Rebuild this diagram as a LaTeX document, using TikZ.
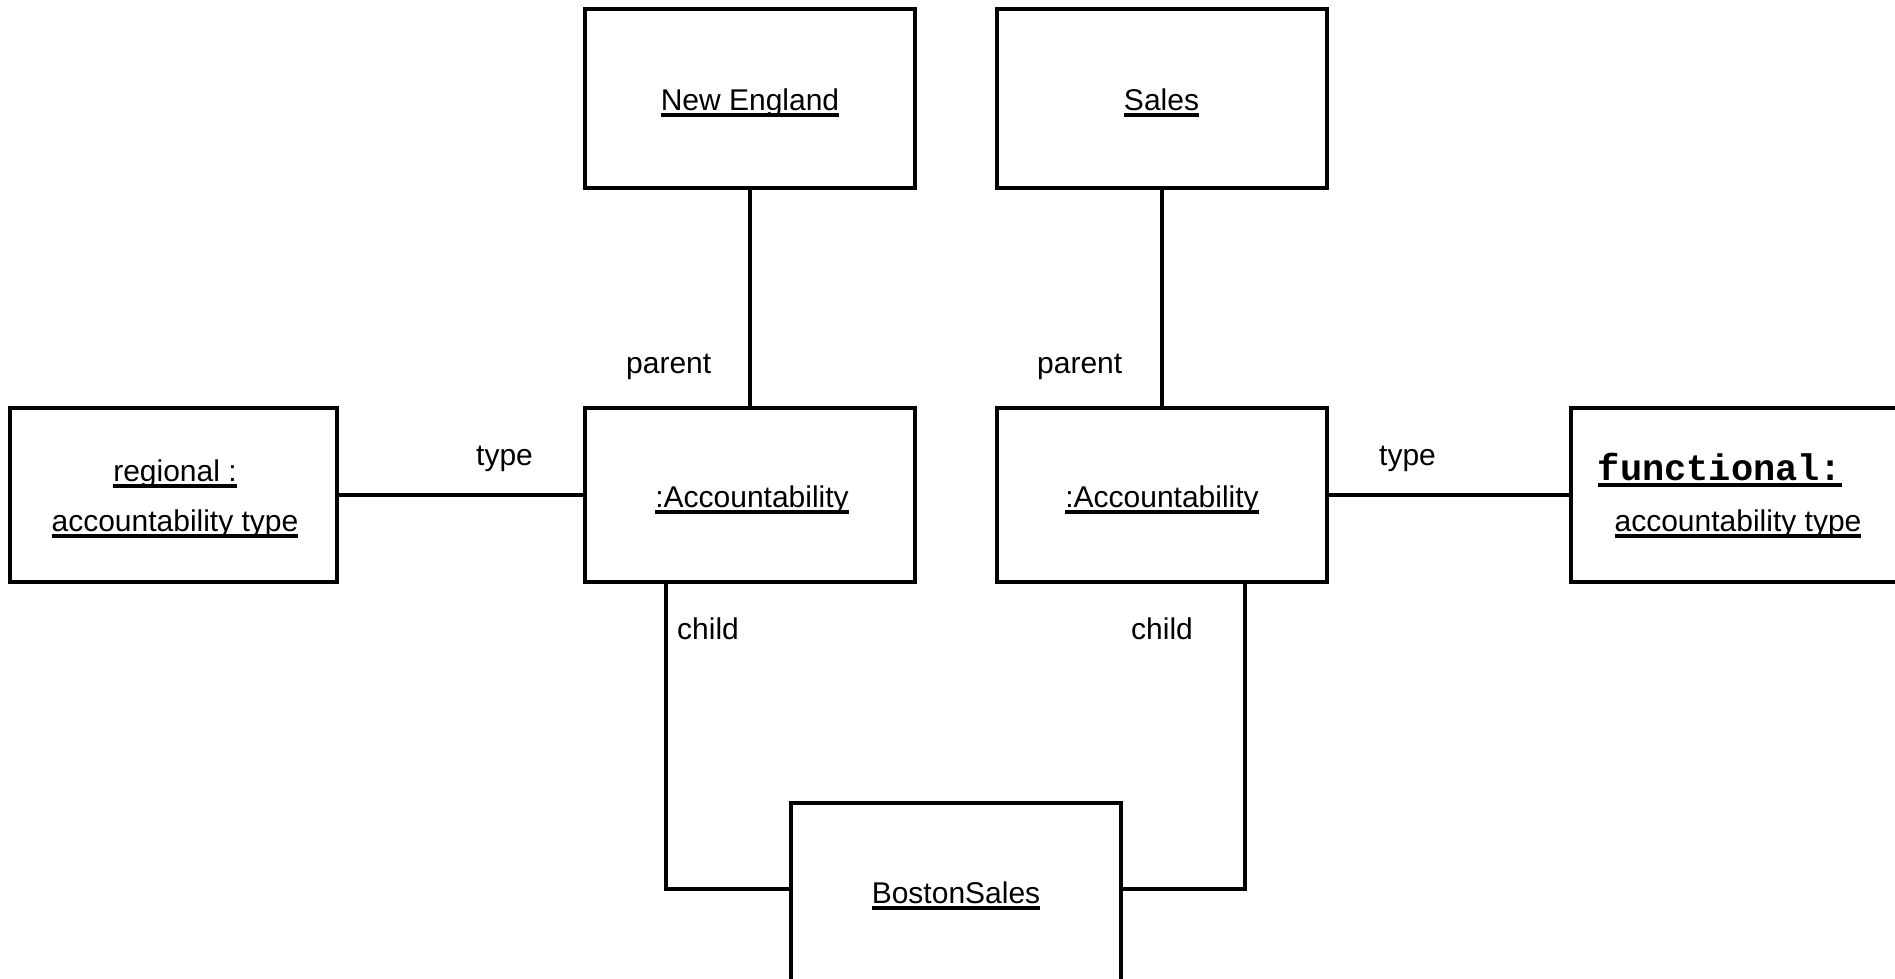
\documentclass[tikz,border=0pt]{standalone}
\usepackage{fontspec}
\setmainfont{Liberation Sans}
\newfontfamily\monob{Liberation Mono}
\newcommand{\ulname}[1]{\setbox0=\hbox{#1}\rlap{\raisebox{-7pt}{\rule{\wd0}{4pt}}}\box0}
\begin{document}
\begin{tikzpicture}[x=1pt,y=-1pt,
  obj/.style={draw, line width=4pt, inner sep=0pt, minimum width=330pt, minimum height=174pt},
  txt/.style={inner sep=0pt, anchor=base, font=\fontsize{30}{36}\selectfont},
  mtxt/.style={inner sep=0pt, anchor=base, font=\fontsize{37}{44}\selectfont\monob\bfseries},
  lbl/.style={inner sep=0pt, anchor=base west, font=\fontsize{30}{36}\selectfont},
  conn/.style={line width=4pt}]
\useasboundingbox (0,0) rectangle (1895,978);
\begin{scope}
\clip (0,0) rectangle (1895,978);
% boxes
\node[obj, minimum height=179pt] (ne) at (750,98) {};
\node[obj, minimum height=179pt] (sales) at (1161.5,98) {};
\node[obj, minimum width=327pt] (regional) at (173.5,495) {};
\node[obj] (acc1) at (750,495) {};
\node[obj] (acc2) at (1161.5,495) {};
\node[obj] (functional) at (1736,495) {};
\node[obj, minimum height=179pt] (boston) at (956,892) {};
% texts
\node[txt] (ne-t) at (750,110) {\ulname{New England}};
\node[txt] (sales-t) at (1161.5,110) {\ulname{Sales}};
\node[txt] (acc1-t) at (752,507) {\ulname{:Accountability}};
\node[txt] (acc2-t) at (1162,507) {\ulname{:Accountability}};
\node[txt] (boston-t) at (956,903) {\ulname{BostonSales}};
\node[txt] (regional-t1) at (175,481) {\ulname{regional :}};
\node[txt] (regional-t2) at (175,531) {\ulname{accountability type}};
\node[mtxt] (functional-t1) at (1720,480) {\ulname{functional:}};
\node[txt] (functional-t2) at (1738,531) {\ulname{accountability type}};
% connectors
\draw[conn] (ne.south) -- (acc1.north);
\draw[conn] (sales.south) -- (acc2.north);
\draw[conn] (regional.east) -- (acc1.west);
\draw[conn] (acc2.east) -- (functional.west);
\coordinate (c1) at (666,889);
\coordinate (c2) at (1245,889);
\draw[conn] (c1 |- acc1.south) -- (c1) -- (c1 -| boston.west);
\draw[conn] (c2 |- acc2.south) -- (c2) -- (c2 -| boston.east);
% labels
\node[lbl] (parent1) at (626,373) {parent};
\node[lbl] (parent2) at (1037,373) {parent};
\node[lbl] (type1) at (476,465) {type};
\node[lbl] (type2) at (1379,465) {type};
\node[lbl] (child1) at (677,639) {child};
\node[lbl] (child2) at (1131,639) {child};
\end{scope}
\end{tikzpicture}
\end{document}
